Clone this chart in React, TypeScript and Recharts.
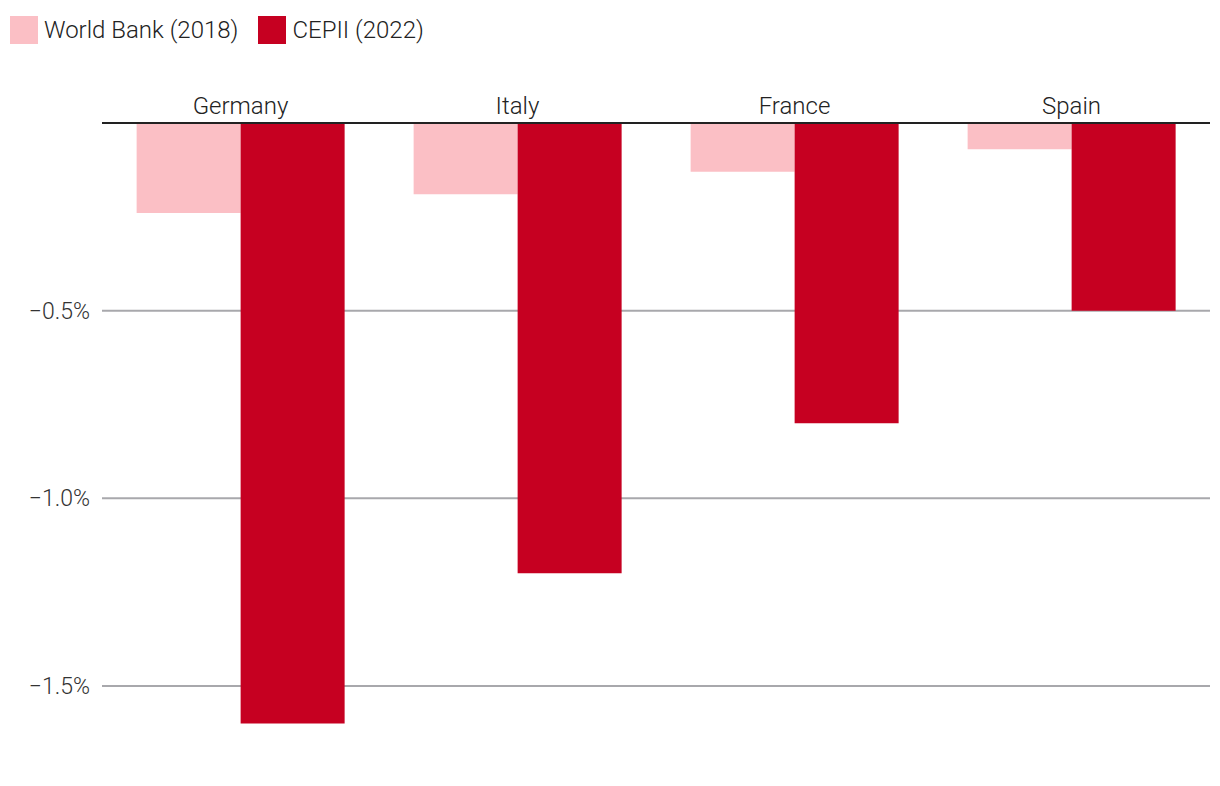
import React from "react";
import { BarChart, Bar, XAxis, YAxis, CartesianGrid } from "recharts";

const categories = ["Germany", "Italy", "France", "Spain"];
const worldBank2018 = [-0.24, -0.19, -0.13, -0.07];
const cepii2022 = [-1.6, -1.2, -0.8, -0.5];
const yTicks = [-1.5, -1.0, -0.5];

const seriesNames = ["World Bank (2018)", "CEPII (2022)"];
const colors = ["#fbbfc5", "#c60021"];

const data = categories.map((c, i) => ({
  country: c,
  wb: worldBank2018[i],
  cepii: cepii2022[i],
}));

const FONT = "Roboto, 'DejaVu Sans', sans-serif";

const fmt = (v: number) => (v < 0 ? "\u2212" : "") + Math.abs(v).toFixed(1) + "%";

export default function App() {
  return (
    <div style={{ position: "absolute", left: 0, top: 0, width: 1220, height: 786, background: "#fff", fontFamily: FONT }}>
      <div style={{ position: "absolute", left: 10, top: 15, display: "flex", alignItems: "center", fontSize: 24, fontWeight: 300, color: "#222", lineHeight: "30px" }}>
        {seriesNames.map((n, i) => (
          <div key={n} style={{ display: "flex", alignItems: "center", marginRight: 20 }}>
            <div style={{ width: 28, height: 28, background: colors[i], marginRight: 6 }} />
            <span>{n}</span>
          </div>
        ))}
      </div>
      <BarChart
        width={1220}
        height={786}
        data={data}
        margin={{ top: 83, right: 10, bottom: 25, left: 0 }}
        barGap={0}
        barCategoryGap="12.5%"
      >
        <CartesianGrid
          vertical={false}
          stroke="#a8a8ac"
          strokeWidth={2}
          horizontalValues={yTicks}
        />
        <XAxis
          dataKey="country"
          orientation="top"
          height={40}
          axisLine={{ stroke: "#222", strokeWidth: 2 }}
          tickLine={false}
          tickSize={6}
          tickMargin={3}
          tick={{ fill: "#222", fontSize: 24, fontWeight: 300, fontFamily: FONT }}
        />
        <YAxis
          width={102}
          domain={[-1.7, 0]}
          ticks={yTicks}
          axisLine={false}
          tickLine={false}
          tickSize={6}
          tickMargin={6}
          tickFormatter={fmt}
          tick={{ fill: "#333", fontSize: 23, fontWeight: 300, fontFamily: FONT }}
        />
        <Bar dataKey="wb" name={seriesNames[0]} fill={colors[0]} isAnimationActive={false} />
        <Bar dataKey="cepii" name={seriesNames[1]} fill={colors[1]} isAnimationActive={false} />
      </BarChart>
    </div>
  );
}
